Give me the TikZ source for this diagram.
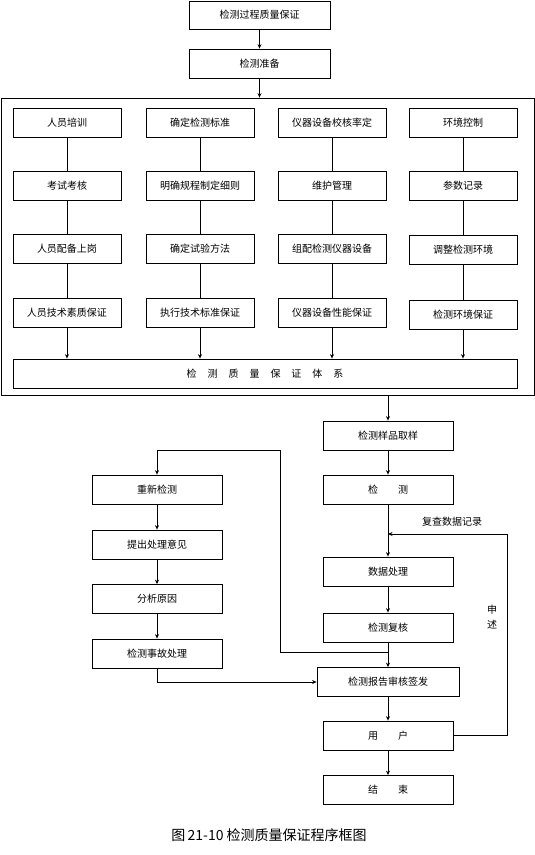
\documentclass[tikz,border=0pt]{standalone}
\usepackage{fontspec}
\newfontfamily\cjk{Noto Sans CJK SC}
\usetikzlibrary{arrows.meta}
\begin{document}
\begin{tikzpicture}[x=1pt,y=-1pt,
  box/.style={draw,line width=0.8pt,inner sep=0pt,minimum width=#1,minimum height=29pt,font=\cjk\fontsize{10}{12}\selectfont},
  box/.default=108pt,
  ln/.style={line width=0.8pt},
  arr/.style={line width=0.8pt,-{Stealth[length=4.5pt,width=4pt]}},
  lbl/.style={inner sep=0pt,font=\cjk\fontsize{10}{15}\selectfont}]
\useasboundingbox (0,0) rectangle (535,855);
% top
\node[box=141pt,minimum height=28pt] (top) at (259.5,15) {检测过程质量保证};
\node[box=141pt] (prep) at (259.5,63.5) {检测准备};
\node[draw,line width=0.8pt,minimum width=533pt,minimum height=297pt,inner sep=0pt] (frame) at (267.5,246.5) {};
\draw[arr] (top) -- (prep);
\draw[arr] (prep) -- (frame.north -| prep);
% grid
\node[box] (a1) at (67,122.5) {人员培训};
\node[box] (a2) at (67,185.5) {考试考核};
\node[box] (a3) at (67,248.5) {人员配备上岗};
\node[box] (a4) at (67,312.5) {人员技术素质保证};
\node[box] (b1) at (200,122.5) {确定检测标准};
\node[box] (b2) at (200,185.5) {明确规程制定细则};
\node[box] (b3) at (200,248.5) {确定试验方法};
\node[box] (b4) at (200,312.5) {执行技术标准保证};
\node[box] (c1) at (332,122.5) {仪器设备校核率定};
\node[box] (c2) at (332,185.5) {维护管理};
\node[box] (c3) at (332,248.5) {组配检测仪器设备};
\node[box] (c4) at (332,312.5) {仪器设备性能保证};
\node[box] (d1) at (463,122.5) {环境控制};
\node[box] (d2) at (463,185.5) {参数记录};
\node[box] (d3) at (463,249.5) {调整检测环境};
\node[box] (d4) at (463,314.5) {检测环境保证};
\node[box=504pt] (bar) at (265,373.5) {检\hspace{1.1em}测\hspace{1.1em}质\hspace{1.1em}量\hspace{1.1em}保\hspace{1.1em}证\hspace{1.1em}体\hspace{1.1em}系};
\foreach \c in {a,b,c,d}{
  \draw[ln] (\c1) -- (\c2);
  \draw[ln] (\c2) -- (\c3);
  \draw[ln] (\c3) -- (\c4);
  \draw[arr] (\c4) -- (bar.north -| \c4);
}
% right column
\node[box=130pt] (sample) at (388,435.5) {检测样品取样};
\node[box=130pt] (test) at (388,489.5) {检\hspace{2em}测};
\node[box=130pt] (proc) at (388,571.5) {数据处理};
\node[box=130pt] (rev) at (388,627.5) {检测复核};
\node[box=142pt] (report) at (388,682) {检测报告审核签发};
\node[box=130pt] (user) at (388,735.5) {用\hspace{2em}户};
\node[box=130pt] (end) at (388,790) {结\hspace{2em}束};
% left column
\node[box=130pt] (redo) at (157,489.5) {重新检测};
\node[box=130pt] (prop) at (157,544.5) {提出处理意见};
\node[box=130pt] (anal) at (157,599) {分析原因};
\node[box=130pt] (acc) at (157,653.5) {检测事故处理};
% connectors
\draw[arr] (frame.south -| sample) -- (sample);
\draw[arr] (sample) -- (test);
\draw[arr] (test) -- (proc);
\draw[arr] (proc) -- (rev);
\coordinate (j1) at (388,652);
\coordinate (j2) at (280,652);
\coordinate (j3) at (280,450);
\coordinate (j4) at (157,450);
\draw[ln] (rev) -- (j1);
\draw[arr] (j1) -- (report);
\draw[arr] (j1) -- (j2) -- (j3) -- (j4) -- (redo);
\draw[arr] (redo) -- (prop);
\draw[arr] (prop) -- (anal);
\draw[arr] (anal) -- (acc);
\draw[arr] (acc.south) |- (report.west);
\draw[arr] (report) -- (user);
\draw[arr] (user) -- (end);
\coordinate (f1) at (507,735.5);
\coordinate (f2) at (507,534);
\coordinate (f3) at (388,534);
\draw[arr] (user.east) -- (f1) -- (f2) -- (f3);
\node[lbl] (fbl) at (452,522) {复查数据记录};
\node[lbl,align=center] (appeal) at (492,617.5) {申\\述};
\node[inner sep=0pt,font=\cjk\fontsize{14}{16}\selectfont] (cap) at (269,835) {图\,21-10 检测质量保证程序框图};
\end{tikzpicture}
\end{document}
